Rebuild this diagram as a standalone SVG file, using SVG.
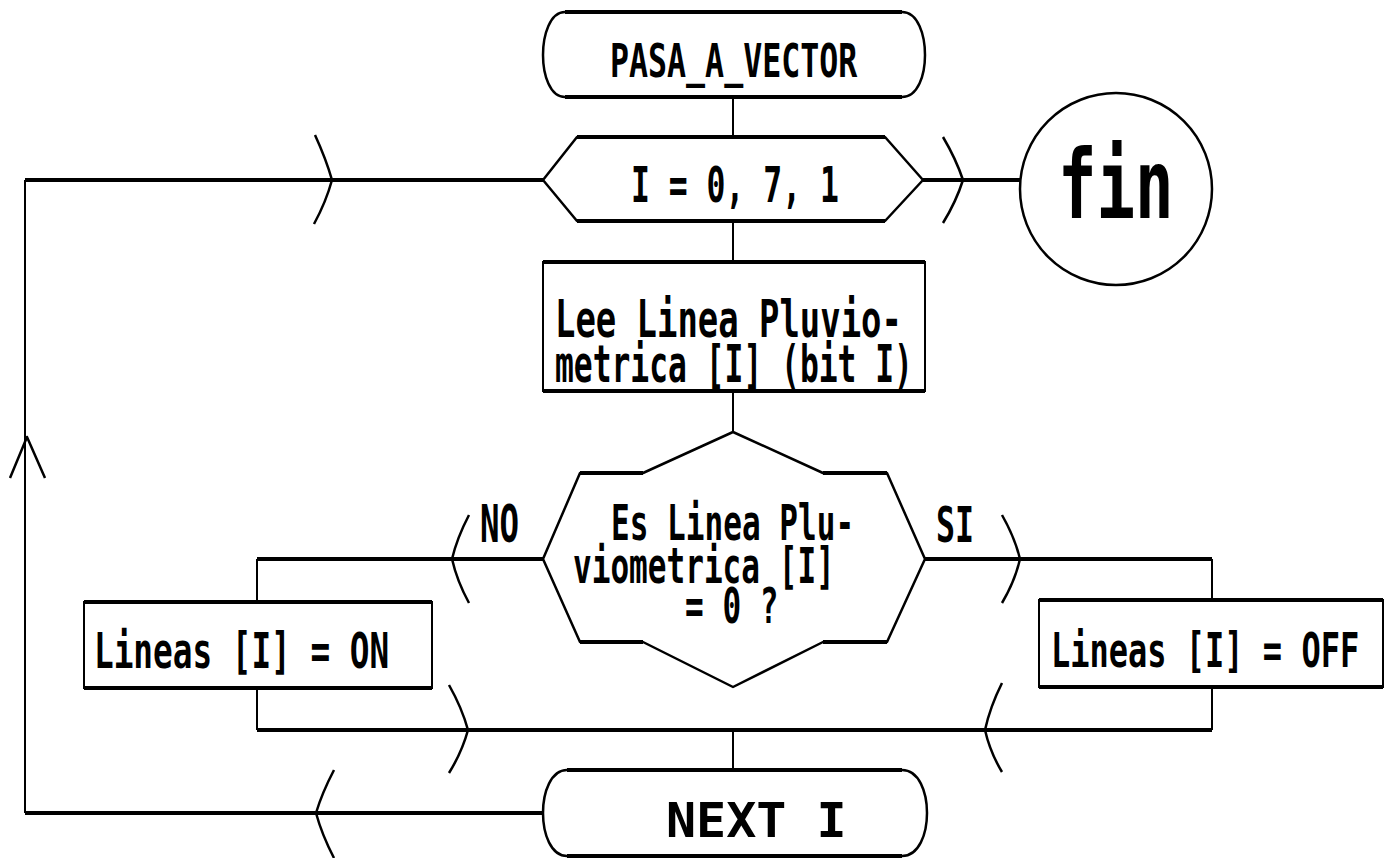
<svg xmlns="http://www.w3.org/2000/svg" width="1386" height="858" viewBox="0 0 1386 858">
  <style>
    .h { stroke: #000; stroke-width: 4; fill: none; }
    .v { stroke: #000; stroke-width: 2; fill: none; }
    .d { stroke: #000; stroke-width: 2.5; fill: none; stroke-linejoin: round; }
    .t { font-family: "DejaVu Sans Mono", "Liberation Mono", monospace; font-weight: bold; fill: #000; }
  </style>
  <rect width="1386" height="858" fill="#fff"/>

  <!-- connectors -->
  <g id="connectors">
    <!-- loop return: bottom line, left riser, top line -->
    <path class="h" d="M543,813 H25"/>
    <path class="v" d="M25,813 V180"/>
    <path class="h" d="M25,180 H543"/>
    <!-- exit to fin -->
    <path class="h" d="M923,180 H1020"/>
    <!-- main vertical flow -->
    <path class="v" d="M733,97 V137"/>
    <path class="v" d="M733,221 V262"/>
    <path class="v" d="M733,391 V432"/>
    <path class="v" d="M733,730 V770"/>
    <!-- NO branch -->
    <path class="h" d="M543,559 H257"/>
    <path class="v" d="M257,559 V602"/>
    <path class="v" d="M257,688 V730"/>
    <!-- SI branch -->
    <path class="h" d="M925,559 H1212"/>
    <path class="v" d="M1212,559 V600"/>
    <path class="v" d="M1212,687 V730"/>
    <!-- merge line -->
    <path class="h" d="M257,730 H1212"/>

    <!-- flow chevrons -->
    <path class="d" d="M315,135 Q326,159 332,180 Q326,202 314,224"/>
    <path class="d" d="M10,478 L27,437 L45,478"/>
    <path class="d" d="M334,770 Q322,793 316,813 Q322,835 334,858"/>
    <path class="d" d="M943,137 Q956,159 963,180 Q956,202 943,223"/>
    <path class="d" d="M469,515 Q457,538 452,559 Q457,581 469,603"/>
    <path class="d" d="M1002,515 Q1015,538 1020,559 Q1015,581 1002,603"/>
    <path class="d" d="M449,685 Q462,708 468,730 Q462,752 449,773"/>
    <path class="d" d="M1002,683 Q990,707 985,730 Q990,752 1002,772"/>
  </g>

  <!-- start terminator -->
  <g id="start">
    <path class="d" d="M565,12 H902 C918,12 925,35 925,55 C925,75 918,97 902,97 H565 C550,97 543,75 543,55 C543,35 550,12 565,12 Z"/>
    <path class="h" d="M565,12 H902 M565,97 H902"/>
    <text class="t" transform="translate(610,77) scale(1,1.48)" font-size="31.6">PASA_A_VECTOR</text>
  </g>

  <!-- loop header -->
  <g id="loop">
    <path class="d" d="M543,180 L577,137 H885 L923,180 L885,221 H577 Z"/>
    <path class="h" d="M577,137 H885 M577,221 H885"/>
    <text class="t" transform="translate(631,202) scale(1,1.6)" font-size="31.4">I = 0, 7, 1</text>
  </g>

  <!-- end connector -->
  <g id="fin">
    <circle class="d" cx="1116" cy="189" r="96" stroke-width="3"/>
    <text class="t" transform="translate(1058,218) scale(1,1.5)" font-size="64">fin</text>
  </g>

  <!-- read line -->
  <g id="read">
    <rect class="v" x="543" y="262" width="382" height="129"/>
    <path class="h" d="M543,262 H925 M543,391 H925"/>
    <text class="t" transform="translate(555,337) scale(1,1.5)" font-size="33.9">Lee Linea Pluvio-</text>
    <text class="t" transform="translate(555,382) scale(1,1.62)" font-size="31.3">metrica [I] (bit I)</text>
  </g>

  <!-- decision -->
  <g id="decision">
    <path class="d" d="M543,559 L580,473 H643 L733,432 L823,473 H887 L925,559 L887,642 H823 L733,687 L643,642 H580 Z"/>
    <path class="h" d="M580,473 H643 M823,473 H887 M580,642 H643 M823,642 H887"/>
    <text class="t" transform="translate(611,540) scale(1,1.59)" font-size="31.06">Es Linea Plu-</text>
    <text class="t" transform="translate(573,583) scale(1,1.59)" font-size="31.06">viometrica [I]</text>
    <text class="t" transform="translate(685,623) scale(1,1.59)" font-size="31.06">= 0 ?</text>
  </g>

  <!-- branch labels -->
  <g id="label-no">
    <text class="t" transform="translate(480,542) scale(1,1.57)" font-size="32.4">NO</text>
  </g>
  <g id="label-si">
    <text class="t" transform="translate(936,542) scale(1,1.6)" font-size="31.6">SI</text>
  </g>

  <!-- set ON -->
  <g id="set-on">
    <rect class="v" x="84" y="602" width="348" height="86"/>
    <path class="h" d="M84,602 H432 M84,688 H432"/>
    <text class="t" transform="translate(94,668) scale(1,1.51)" font-size="32.7">Lineas [I] = ON</text>
  </g>

  <!-- set OFF -->
  <g id="set-off">
    <rect class="v" x="1039" y="600" width="344" height="87"/>
    <path class="h" d="M1039,600 H1383 M1039,687 H1383"/>
    <text class="t" transform="translate(1051,667) scale(1,1.5)" font-size="32">Lineas [I] = OFF</text>
  </g>

  <!-- loop end terminator -->
  <g id="next">
    <path class="d" d="M567,770 H902 C919,770 927,792 927,813 C927,834 919,856 902,856 H567 C551,856 543,834 543,813 C543,792 551,770 567,770 Z"/>
    <path class="h" d="M567,770 H902 M567,856 H902"/>
    <text class="t" transform="translate(666,837) scale(1,0.96)" font-size="50">NEXT I</text>
  </g>
</svg>
